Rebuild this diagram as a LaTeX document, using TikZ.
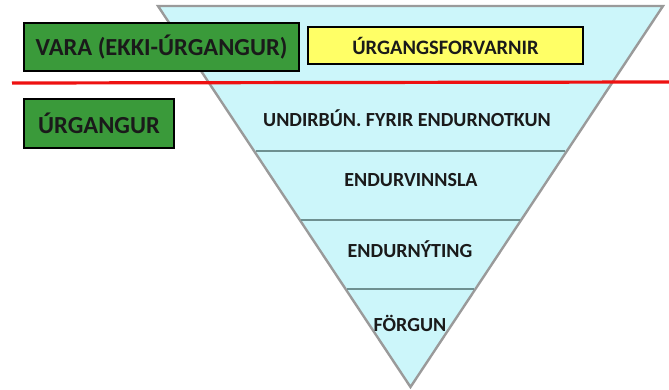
\documentclass[tikz,border=0pt]{standalone}
\usepackage{fontspec}
\setmainfont{Carlito}
\usetikzlibrary{calc}
\definecolor{boxgreen}{HTML}{3A9A3A}
\definecolor{boxyellow}{HTML}{FFFF66}
\definecolor{tricyan}{HTML}{CCF6FA}
\definecolor{triedge}{HTML}{9A9A9A}
\definecolor{bandline}{HTML}{6E9090}
\definecolor{redline}{HTML}{EE1111}
\definecolor{txt}{HTML}{1A1A1A}
\tikzset{
  greenbox/.style={draw=black, line width=2.8pt, fill=boxgreen, text=txt, font=\fontsize{24.5}{28}\selectfont\bfseries, inner sep=0pt},
  yellowbox/.style={draw=black, line width=2.8pt, fill=boxyellow, text=txt, font=\fontsize{20.5}{23}\selectfont\bfseries, inner sep=0pt},
  tierlabel/.style={text=txt, font=\fontsize{20}{23}\selectfont\bfseries, inner sep=0pt},
}
\begin{document}
\begin{tikzpicture}[x=1pt,y=-1pt]
\useasboundingbox (0,0) rectangle (669,390);
\fill[white] (0,0) rectangle (669,390);
\coordinate (T1) at (158,6);
\coordinate (T2) at (663,6);
\coordinate (A) at (410.5,387);
\draw[triedge, fill=tricyan, line width=2.4pt, line join=miter] (T1) -- (T2) -- (A) -- cycle;
\coordinate (L1) at ($(T1)!0.3806!(A)$);
\coordinate (R1) at ($(T2)!0.3806!(A)$);
\coordinate (L2) at ($(T1)!0.5617!(A)$);
\coordinate (R2) at ($(T2)!0.5617!(A)$);
\coordinate (L3) at ($(T1)!0.7428!(A)$);
\coordinate (R3) at ($(T2)!0.7428!(A)$);
\draw[bandline, line width=2.2pt, shorten <=1.5pt, shorten >=1.5pt] (L1) -- (R1);
\draw[bandline, line width=2.2pt, shorten <=1.5pt, shorten >=1.5pt] (L2) -- (R2);
\draw[bandline, line width=2.2pt, shorten <=1.5pt, shorten >=1.5pt] (L3) -- (R3);
\coordinate (RL) at (12,83);
\coordinate (RR) at (669,82);
\draw[redline, line width=3.2pt] (RL) -- (RR);
\node[greenbox, minimum width=275pt, minimum height=48pt] (vara) at (161.5,47) {VARA (EKKI-ÚRGANGUR)};
\node[yellowbox, minimum width=275pt, minimum height=37pt] (forv) at (445.5,45.5) {ÚRGANGSFORVARNIR};
\node[greenbox, minimum width=150pt, minimum height=49pt] (urg) at (99,123.5) {ÚRGANGUR};
\node[tierlabel] (t1) at (407,118) {UNDIRBÚN. FYRIR ENDURNOTKUN};
\node[tierlabel] (t2) at (411,180) {ENDURVINNSLA};
\node[tierlabel] (t3) at (410,249) {ENDURNÝTING};
\node[tierlabel] (t4) at (410,323) {FÖRGUN};
\end{tikzpicture}
\end{document}
